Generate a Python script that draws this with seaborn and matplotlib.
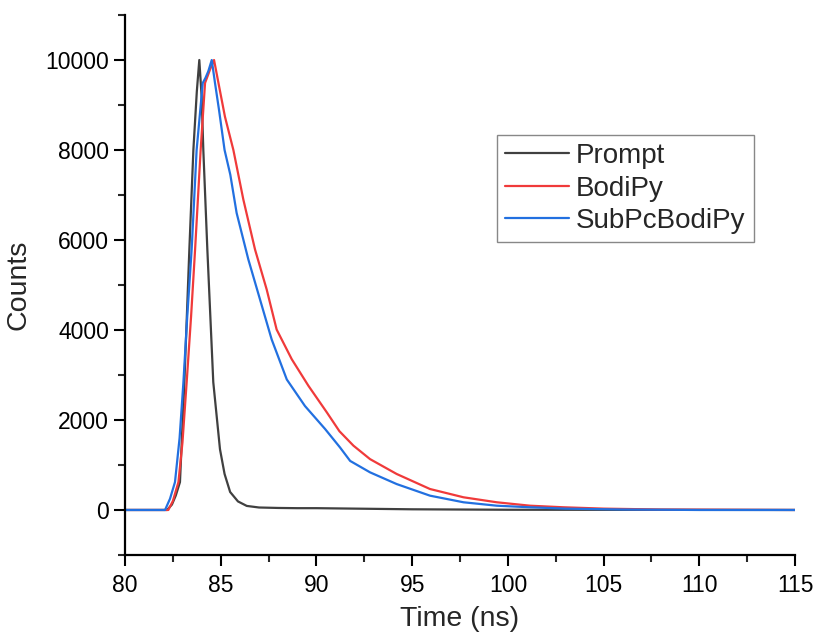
import numpy as np
import pandas as pd
import matplotlib.pyplot as plt
import seaborn as sns
from matplotlib.ticker import MultipleLocator

# values (time in ns, counts)
prompt_t = [80.0, 82.2, 82.45, 82.65, 82.87, 83.1, 83.36, 83.57, 83.75, 83.88, 84.0, 84.09,
            84.3, 84.61, 84.96, 85.2, 85.49, 85.9, 86.36, 87.0, 88.0, 89.0, 90.0, 92.0, 95.0,
            100.0, 115.0]
prompt_c = [0, 0, 120, 320, 620, 2840, 5790, 8000, 9300, 10000, 9200, 8000,
            5790, 2840, 1350, 800, 400, 190, 90, 55, 45, 40, 40, 30, 15,
            5, 0]

bodipy_t = [80.0, 82.26, 82.5, 82.79, 83.0, 83.22, 83.45, 83.66, 83.95, 84.18, 84.32, 84.45,
            84.65, 84.88, 85.22, 85.66, 86.18, 86.79, 87.4, 87.92, 88.71, 89.58, 90.54, 91.2,
            91.93, 92.8, 94.19, 95.93, 97.68, 99.42, 101.16, 102.9, 105.0, 108.0, 115.0]
bodipy_c = [0, 0, 200, 620, 1500, 2840, 4300, 5790, 8000, 9490, 9650, 9800,
            10000, 9490, 8740, 8000, 6900, 5790, 4900, 4010, 3350, 2760, 2170, 1750,
            1430, 1130, 800, 466, 282, 171, 95, 60, 30, 10, 0]

subpc_t = [80.0, 82.09, 82.35, 82.61, 82.85, 83.05, 83.25, 83.48, 83.74, 84.06, 84.2, 84.35,
           84.53, 84.7, 84.91, 85.2, 85.5, 85.83, 86.44, 87.05, 87.66, 88.45, 89.4, 90.45,
           91.23, 91.76, 92.8, 94.19, 95.93, 97.68, 99.42, 101.16, 103.0, 106.0, 110.0, 115.0]
subpc_c = [0, 0, 250, 620, 1600, 2840, 4300, 5790, 8000, 9490, 9600, 9750,
           10000, 9490, 8890, 8000, 7450, 6600, 5570, 4680, 3790, 2900, 2310, 1800,
           1390, 1090, 836, 576, 318, 171, 95, 60, 30, 10, 0, 0]

names = ["Prompt", "BodiPy", "SubPcBodiPy"]
colors = ["#404040", "#f03a3a", "#2270e0"]

df = pd.concat([
    pd.DataFrame({"Time": prompt_t, "Counts": prompt_c, "Sample": names[0]}),
    pd.DataFrame({"Time": bodipy_t, "Counts": bodipy_c, "Sample": names[1]}),
    pd.DataFrame({"Time": subpc_t, "Counts": subpc_c, "Sample": names[2]}),
])

sns.set_style("ticks")
plt.rcParams["font.family"] = ["Liberation Sans", "DejaVu Sans"]

fig = plt.figure(figsize=(8.14, 6.39), dpi=100)
ax = fig.add_axes([0.1536, 0.1315, 0.8231, 0.845])

sns.lineplot(data=df, x="Time", y="Counts", hue="Sample", palette=colors,
             estimator=None, sort=True, linewidth=1.6, ax=ax)

ax.set_xlim(80, 115)
ax.set_ylim(-1000, 11000)
ax.xaxis.set_major_locator(MultipleLocator(5))
ax.xaxis.set_minor_locator(MultipleLocator(2.5))
ax.yaxis.set_major_locator(MultipleLocator(2000))
ax.yaxis.set_minor_locator(MultipleLocator(1000))
ax.set_yticks([0, 2000, 4000, 6000, 8000, 10000])
ax.tick_params(which="major", length=8, width=1.5, labelsize=16.5, direction="out", colors="black")
ax.tick_params(which="minor", length=5, width=1.5, direction="out")
ax.tick_params(axis="x", pad=6)
for side in ["top", "right"]:
    ax.spines[side].set_visible(False)
for side in ["left", "bottom"]:
    ax.spines[side].set_linewidth(1.6)
    ax.spines[side].set_color("black")

ax.set_xlabel("Time (ns)", fontsize=20.5, labelpad=6)
ax.set_ylabel("Counts", fontsize=20.5, labelpad=10)

leg = ax.legend(loc="upper left", bbox_to_anchor=(0.555, 0.778), fontsize=20,
                frameon=True, fancybox=False, edgecolor="#888888", framealpha=1,
                handlelength=2.3, handletextpad=0.25, borderpad=0.3, labelspacing=0.23,
                borderaxespad=0)
leg.get_frame().set_linewidth(1.0)
for line in leg.get_lines():
    line.set_linewidth(1.6)

plt.savefig("out.png", dpi=100)
